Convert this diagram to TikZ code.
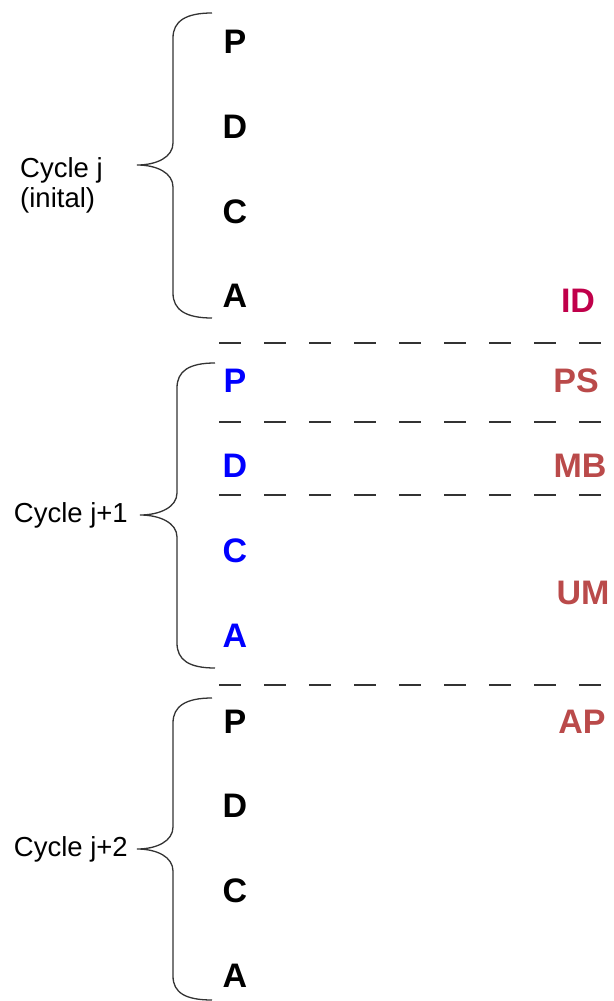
\documentclass[tikz,border=0pt]{standalone}
\usepackage{fontspec}
\setmainfont{Liberation Sans}
\usetikzlibrary{positioning}

\definecolor{phaseblue}{RGB}{0,0,255}
\definecolor{tagcrimson}{RGB}{192,0,74}
\definecolor{tagred}{RGB}{186,74,74}
\definecolor{linegray}{RGB}{51,51,51}

\tikzset{
  phase/.style={inner sep=0pt,font=\fontsize{34}{40}\bfseries\selectfont},
  tag/.style={inner sep=0pt,text=tagred,font=\fontsize{34}{40}\bfseries\selectfont},
  cyclelabel/.style={inner sep=0pt,font=\fontsize{27.5}{30}\selectfont},
  bracket/.style={draw=linegray,line width=1.3pt},
  divider/.style={draw=linegray,line width=2pt,dash pattern=on 22pt off 23pt}
}

\begin{document}
\begin{tikzpicture}[x=1pt,y=-1pt]
        \useasboundingbox (0,0) rectangle (613,1001);
        			% Cycle j (inital)
        			\draw [bracket] (212,13) .. controls (186,13) and (173,21) .. (173,38) -- (173,143)
        			      .. controls (173,157) and (157,165) .. (137,165) coordinate (tip1)
        			      .. controls (157,165) and (173,173) .. (173,187) -- (173,293)
        			      .. controls (173,310) and (186,318) .. (212,318);
        			\node [cyclelabel,align=left,anchor=north west] (cyc1) at (20,157) {Cycle j\\(inital)};
        			\node [phase] (p1) at (235,42) {P};
        			\node [phase] (d1) at (235,127) {D};
        			\node [phase] (c1) at (235,212) {C};
        			\node [phase] (a1) at (235,296) {A};
        			\node [tag,text=tagcrimson] (id) at (578,301) {ID};
			%
			%        Cycle j+1
        			\draw [bracket] (215,363) .. controls (189,363) and (177,371) .. (177,388) -- (177,493)
        			      .. controls (177,507) and (160,515) .. (140,515) coordinate (tip2)
        			      .. controls (160,515) and (177,523) .. (177,537) -- (177,643)
        			      .. controls (177,660) and (189,668) .. (215,668);
        			\node [cyclelabel,left=12pt of tip2] (cyc2) {Cycle j+1};
        			\node [phase,text=phaseblue] (p2) at (235,381) {P};
        			\node [phase,text=phaseblue] (d2) at (235,466) {D};
        			\node [phase,text=phaseblue] (c2) at (235,551) {C};
        			\node [phase,text=phaseblue] (a2) at (235,636) {A};
        			\node [tag] (ps) at (576,381) {PS};
        			\node [tag] (mb) at (580,466) {MB};
        			\node [tag] (um) at (583,593) {UM};
			%
			%        Cycle j+2
        			\draw [bracket] (212,698) .. controls (186,698) and (173,706) .. (173,723) -- (173,827)
        			      .. controls (173,841) and (157,849) .. (137,849) coordinate (tip3)
        			      .. controls (157,849) and (173,857) .. (173,871) -- (173,976)
        			      .. controls (173,993) and (186,1000) .. (212,1000);
        			\node [cyclelabel,left=9pt of tip3] (cyc3) {Cycle j+2};
        			\node [phase] (p3) at (235,722) {P};
        			\node [phase] (d3) at (235,806) {D};
        			\node [phase] (c3) at (235,891) {C};
        			\node [phase] (a3) at (235,976) {A};
        			\node [tag] (ap) at (582,722) {AP};
			%
			%        Dashed separators
        			\draw [divider] (219,343) -- (601,343);
        			\draw [divider] (219,422) -- (601,422);
        			\draw [divider] (219,495) -- (601,495);
        			\draw [divider] (219,685) -- (601,685);
    			\end{tikzpicture}
\end{document}
